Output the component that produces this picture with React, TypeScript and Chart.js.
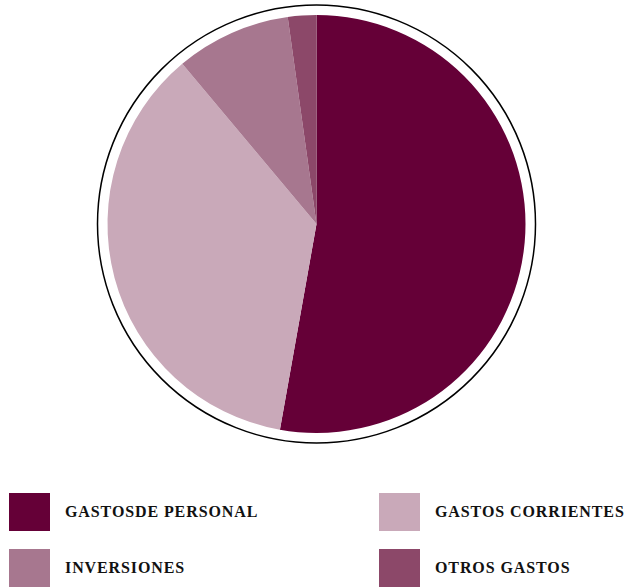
import React, { useEffect, useRef } from "react";
import { Chart, registerables } from "chart.js";

Chart.register(...registerables);

const categories = ["GASTOSDE PERSONAL", "GASTOS CORRIENTES", "INVERSIONES", "OTROS GASTOS"];
const values = [52.8, 36.1, 8.9, 2.2];
const colors = ["#650037", "#c9a9b9", "#a7778f", "#8c4869"];

const outlinePlugin = {
  id: "outline",
  afterDatasetsDraw(chart: any) {
    const meta = chart.getDatasetMeta(0);
    const arc = meta.data[0];
    if (!arc) return;
    const ctx = chart.ctx;
    ctx.save();
    ctx.beginPath();
    ctx.arc(arc.x, arc.y, arc.outerRadius + 10, 0, Math.PI * 2);
    ctx.strokeStyle = "#000";
    ctx.lineWidth = 1.5;
    ctx.stroke();
    ctx.restore();
  },
};

export default function App() {
  const ref = useRef<HTMLCanvasElement>(null);
  useEffect(() => {
    document.body.style.margin = "0";
    const chart = new Chart(ref.current!, {
      type: "pie",
      data: {
        labels: categories,
        datasets: [{ data: values, backgroundColor: colors, borderWidth: 0 }],
      },
      options: {
        animation: false,
        responsive: false,
        layout: { padding: { left: 107, right: 100, top: 15, bottom: 15 } },
        plugins: { legend: { display: false }, tooltip: { enabled: false } },
      },
      plugins: [outlinePlugin],
    });
    return () => chart.destroy();
  }, []);

  const legendItem = (i: number, left: number, top: number) => (
    <div key={i} style={{ position: "absolute", left, top, display: "flex", alignItems: "center", height: 38 }}>
      <div style={{ width: 41, height: 38, background: colors[i] }} />
      <span
        style={{
          marginLeft: 15,
          fontFamily: "'Liberation Serif', serif",
          fontWeight: "bold",
          fontSize: 16,
          letterSpacing: 0.9,
          color: "#111",
        }}
      >
        {categories[i]}
      </span>
    </div>
  );

  return (
    <div style={{ position: "relative", width: 626, height: 587, overflow: "hidden" }}>
      <canvas ref={ref} width={626} height={448} style={{ position: "absolute", left: 0, top: 0 }} />
      {legendItem(0, 9, 493)}
      {legendItem(1, 379, 493)}
      {legendItem(2, 9, 549)}
      {legendItem(3, 379, 549)}
    </div>
  );
}
